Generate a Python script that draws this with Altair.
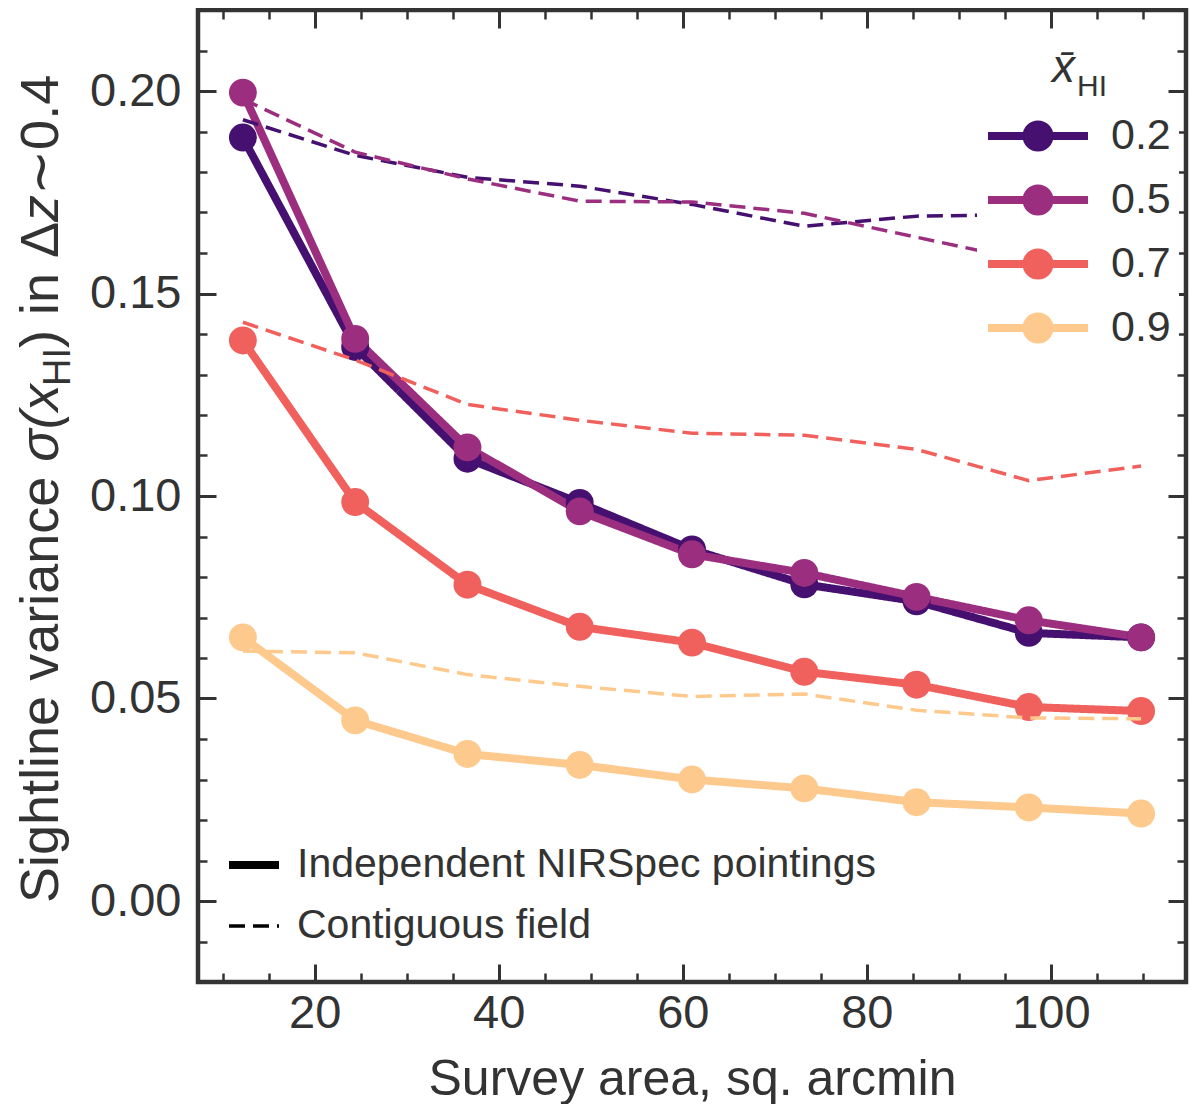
import altair as alt
import pandas as pd

# ---------------- data ----------------
area = [12.2, 24.4, 36.6, 48.8, 61.0, 73.2, 85.4, 97.6, 109.8]
xhi_levels = ["0.2", "0.5", "0.7", "0.9"]
kinds = ["Independent NIRSpec pointings", "Contiguous field"]

indep_02 = [0.1885, 0.1368, 0.1092, 0.0983, 0.0868, 0.0782, 0.0740, 0.0662, 0.0651]
indep_05 = [0.1996, 0.1388, 0.1120, 0.0962, 0.0856, 0.0810, 0.0751, 0.0693, 0.0651]
indep_07 = [0.1384, 0.0985, 0.0781, 0.0677, 0.0638, 0.0566, 0.0534, 0.0479, 0.0469]
indep_09 = [0.0651, 0.0446, 0.0363, 0.0336, 0.0300, 0.0278, 0.0244, 0.0231, 0.0216]

contig_02 = [0.1929, 0.1841, 0.1787, 0.1765, 0.1720, 0.1666, 0.1691, 0.1695, 0.1685]
contig_05 = [0.1980, 0.1849, 0.1783, 0.1728, 0.1726, 0.1698, 0.1639, 0.1580, 0.1560]
contig_07 = [0.1429, 0.1336, 0.1226, 0.1187, 0.1155, 0.1150, 0.1115, 0.1038, 0.1074]
contig_09 = [0.0617, 0.0613, 0.0559, 0.0530, 0.0505, 0.0511, 0.0471, 0.0452, 0.0450]

colors = ["#45106f", "#9c2e7f", "#f0605d", "#fec98d"]

x_major = [20, 40, 60, 80, 100]
x_minor = [10, 15, 25, 30, 35, 45, 50, 55, 65, 70, 75, 85, 90, 95, 105, 110]
y_major = [0.0, 0.05, 0.10, 0.15, 0.20]
y_minor = [-0.01, 0.01, 0.02, 0.03, 0.04, 0.06, 0.07, 0.08, 0.09, 0.11, 0.12,
           0.13, 0.14, 0.16, 0.17, 0.18, 0.19, 0.21]

rows = []
for lvl, s, d in zip(xhi_levels,
                     [indep_02, indep_05, indep_07, indep_09],
                     [contig_02, contig_05, contig_07, contig_09]):
    for a, v in zip(area, s):
        rows.append({"area": a, "sigma": v, "xhi": lvl, "kind": kinds[0]})
    for a, v in zip(area, d):
        rows.append({"area": a, "sigma": v, "xhi": lvl, "kind": kinds[1]})
df = pd.DataFrame(rows)

# ---------------- styling ----------------
FONT = "Liberation Sans"
INK = "#333333"
W, H = 988, 972

xscale = alt.Scale(domain=[7.32, 114.68], nice=False, zero=False)
yscale = alt.Scale(domain=[-0.02, 0.22], nice=False, zero=False)
cscale = alt.Scale(domain=xhi_levels, range=colors)
dscale = alt.Scale(domain=kinds, range=[[1, 0], [16, 8]])
wscale = alt.Scale(type="ordinal", domain=kinds, range=[8, 3.5])


def tick_axis(orient, values, size, width, **kw):
    opts = dict(orient=orient, values=values, tickSize=size, offset=-size,
                domain=False, grid=False, ticks=True, tickColor=INK,
                tickWidth=width, labels=False, title=None)
    opts.update(kw)
    return alt.Axis(**opts)


x_bottom = tick_axis("bottom", x_major, 18, 3, labels=True, format="d",
                     labelFont=FONT, labelFontSize=47, labelColor=INK,
                     labelPadding=8, title="Survey area, sq. arcmin",
                     titleFont=FONT, titleFontSize=50, titleFontWeight="normal",
                     titleColor=INK, titlePadding=18)
y_left = tick_axis("left", y_major, 18, 3, labels=True, format=".2f",
                   labelFont=FONT, labelFontSize=47, labelColor=INK,
                   labelPadding=17)
x_bottom_minor = tick_axis("bottom", x_minor, 9, 2.5)
y_left_minor = tick_axis("left", y_minor, 9, 2.5)
x_top = tick_axis("top", x_major, 18, 3)
y_right = tick_axis("right", y_major, 18, 3)
x_top_minor = tick_axis("top", x_minor, 9, 2.5)
y_right_minor = tick_axis("right", y_minor, 9, 2.5)

# legend symbol: a line with a (ring-filled) dot in its middle
ring = ""
for r in (0.1, 0.3, 0.46):
    ring += f"M{r},0A{r},{r},0,1,1,{-r},0A{r},{r},0,1,1,{r},0Z"
SYMBOL = "M-2,0H2" + ring

color_legend = alt.Legend(
    orient="none", legendX=779, legendY=89, title=None,
    symbolType=SYMBOL, symbolSize=2500, symbolStrokeWidth=8,
    symbolOffset=24, labelOffset=44, rowPadding=7, padding=8,
    labelFont=FONT, labelFontSize=43, labelColor=INK,
    fillColor="white", zindex=1,
)
kind_legend = alt.Legend(
    orient="none", legendX=22, legendY=821, title=None,
    symbolSize=2500, symbolStrokeColor="black", labelOffset=14,
    rowPadding=14, padding=5, labelFont=FONT, labelFontSize=41,
    labelColor=INK, labelLimit=800,
)

base = alt.Chart(df)

solid = base.transform_filter(alt.datum.kind == kinds[0]).mark_line(
    strokeJoin="round"
).encode(
    x=alt.X("area:Q", scale=xscale, axis=x_bottom),
    y=alt.Y("sigma:Q", scale=yscale, axis=y_left),
    color=alt.Color("xhi:N", scale=cscale, legend=color_legend),
    strokeDash=alt.StrokeDash("kind:N", scale=dscale, legend=kind_legend),
    strokeWidth=alt.StrokeWidth("kind:N", scale=wscale, legend=kind_legend),
)

points = base.transform_filter(alt.datum.kind == kinds[0]).mark_circle(
    size=780, opacity=1
).encode(
    x=alt.X("area:Q", scale=xscale, axis=x_bottom_minor),
    y=alt.Y("sigma:Q", scale=yscale, axis=y_left_minor),
    color=alt.Color("xhi:N", scale=cscale, legend=None),
)

dashed = base.transform_filter(alt.datum.kind == kinds[1]).mark_line().encode(
    x=alt.X("area:Q", scale=xscale, axis=x_top),
    y=alt.Y("sigma:Q", scale=yscale, axis=y_right),
    color=alt.Color("xhi:N", scale=cscale, legend=None),
    strokeDash=alt.StrokeDash("kind:N", scale=dscale, legend=kind_legend),
    strokeWidth=alt.StrokeWidth("kind:N", scale=wscale, legend=kind_legend),
)

ghost = base.mark_circle(size=1, opacity=0).encode(
    x=alt.X("area:Q", scale=xscale, axis=x_top_minor),
    y=alt.Y("sigma:Q", scale=yscale, axis=y_right_minor),
)

one = alt.Data(values=[{"k": 1}])


def label(text, x, y, size, angle=0, style="normal"):
    kw = dict(text=text, font=FONT, fontSize=size, color=INK, align="left",
              baseline="alphabetic", fontStyle=style)
    if angle:
        kw["angle"] = angle
    return alt.Chart(one).mark_text(**kw).encode(x=alt.value(x), y=alt.value(y))


# y-axis title with subscript, drawn as rotated text pieces
YB = -140
Y0 = 893
texts = [
    label("Sightline variance ", YB, Y0, 54, 270),
    label("σ(x", YB, Y0 - 441.2, 54, 270, "italic"),
    label("HI", YB + 12, Y0 - 517.0, 38, 270),
    label(") in Δ", YB, Y0 - 555.0, 54, 270),
    label("z", YB, Y0 - 681.1, 54, 270, "italic"),
    label("∼0.4", YB, Y0 - 708.1, 54, 270),
    # legend title  x̄_HI
    label("x\u0304", 854, 72, 46, 0, "italic"),
    label("HI", 879, 86, 30),
]

chart = alt.layer(solid, points, dashed, ghost, *texts).resolve_axis(
    x="independent", y="independent"
).properties(
    width=W, height=H,
    padding={"left": 6, "top": 0, "right": 2, "bottom": 0},
).configure_view(
    stroke=INK, strokeWidth=4.5
)

chart.save("out.html", embed_options={"renderer": "svg", "actions": False})
